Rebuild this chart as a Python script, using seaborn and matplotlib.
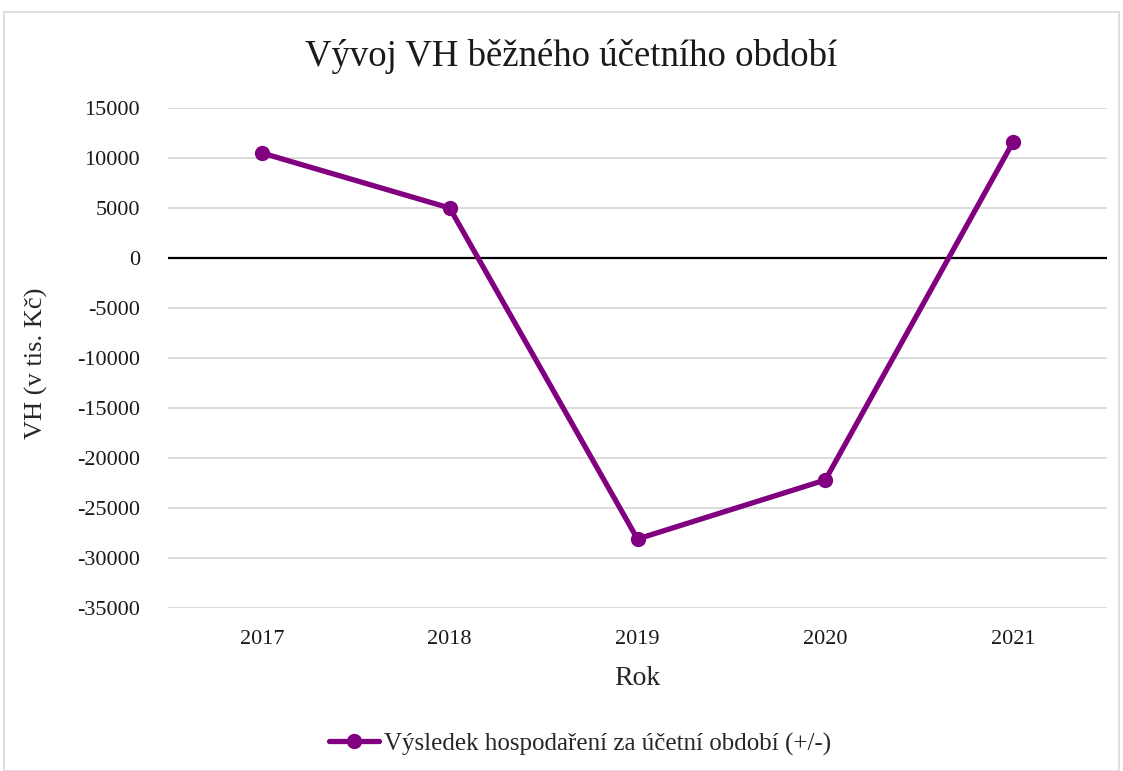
import numpy as np
import pandas as pd
import matplotlib
matplotlib.use("Agg")
import matplotlib.pyplot as plt
import seaborn as sns

years = ["2017", "2018", "2019", "2020", "2021"]
vh_values = [10500, 5000, -28100, -22200, 11600]
series_name = "Výsledek hospodaření za účetní období (+/-)"
y_ticks = list(range(-35000, 15001, 5000))

sns.set_style("white")
plt.rcParams['font.family'] = ['Liberation Serif', 'DejaVu Serif']

df = pd.DataFrame({"Rok": years, "VH": vh_values})

fig = plt.figure(figsize=(11.23, 7.71), dpi=100)
ax = fig.add_axes([168 / 1123, 1 - 608 / 771, (1107 - 168) / 1123, 500 / 771])

purple = "#800080"
sns.lineplot(data=df, x="Rok", y="VH", ax=ax, color=purple, linewidth=3.8,
             marker="o", markersize=11, markeredgewidth=0, label=series_name,
             sort=False, legend=False)

ax.set_ylim(-35000, 15000)
ax.set_xlim(-0.5, len(years) - 0.5)
ax.set_yticks(y_ticks)
ax.set_yticklabels([str(t) for t in y_ticks])
ax.yaxis.grid(True, color="#d9d9d9", linewidth=1.3)
ax.set_axisbelow(True)
ax.axhline(0, color="black", linewidth=1.6, zorder=1.5)
for s in ax.spines.values():
    s.set_visible(False)
ax.tick_params(axis="both", length=0, labelsize=16, colors="#1a1a1a")
ax.tick_params(axis="y", pad=20)
ax.tick_params(axis="x", pad=16)

ax.set_xlabel("Rok", fontsize=20, labelpad=12)
ax.set_ylabel("VH (v tis. Kč)", fontsize=19)
ax.yaxis.set_label_coords((48 - 168) / 939, 0.49)
fig.text(571 / 1123, 1 - 57 / 771, "Vývoj VH běžného účetního období",
         fontsize=26.5, ha="center", va="center", color="#1a1a1a")

handles = ax.get_lines()[:1]
fig.legend(handles, [series_name], loc="center",
           bbox_to_anchor=(580 / 1123, 1 - 744 / 771), frameon=False,
           fontsize=18, handlelength=2.0, handletextpad=0.2)

fig.patches.append(plt.Rectangle((4 / 1123, 0), 1115 / 1123, 1 - 12 / 771,
                                 transform=fig.transFigure, fill=False,
                                 edgecolor="#d9d9d9", linewidth=1.2))

fig.savefig("out.png", dpi=100)
